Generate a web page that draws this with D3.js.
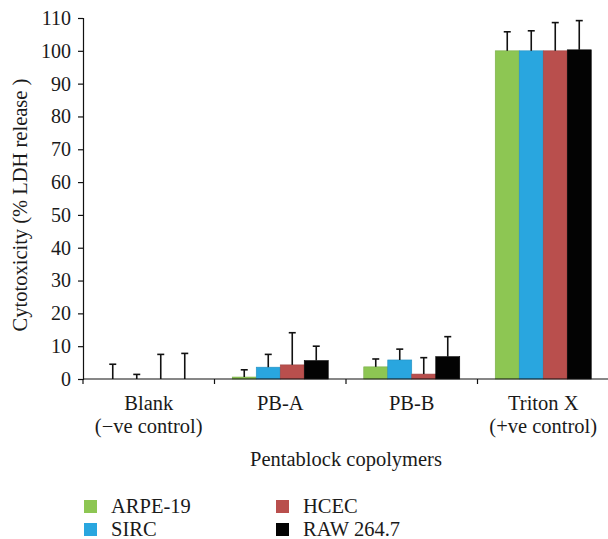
<!DOCTYPE html>
<html>
<head>
<meta charset="utf-8">
<script src="https://cdn.jsdelivr.net/npm/d3@7"></script>
<style>
  html, body { margin: 0; padding: 0; background: #fff; }
  svg { display: block; }
  text { font-family: "Liberation Serif", "Times New Roman", "DejaVu Serif", serif; fill: #1a1a1a; }
</style>
</head>
<body>
<svg id="chart" width="608" height="539"></svg>
<script>
// Cytotoxicity of pentablock copolymers in four cell lines
const categories = ["Blank", "PB-A", "PB-B", "Triton X"];
const categorySub = ["(\u2212ve control)", "", "", "(+ve control)"];
const seriesNames = ["ARPE-19", "SIRC", "HCEC", "RAW 264.7"];
const seriesColors = ["#8dc653", "#29a6df", "#b94f4d", "#030303"];

// mean % LDH release per series, one value per category
const arpe19 = [0, 0.6, 3.7, 100];
const sirc   = [0, 3.6, 5.8, 100];
const hcec   = [0, 4.3, 1.5, 100];
const raw    = [0, 5.6, 6.8, 100.3];

// standard deviations
const arpe19Sd = [4.5, 2.2, 2.4, 5.8];
const sircSd   = [1.4, 3.9, 3.3, 6.1];
const hcecSd   = [7.5, 9.8, 5.0, 8.6];
const rawSd    = [7.8, 4.4, 6.1, 8.9];

const yTicks = [0, 10, 20, 30, 40, 50, 60, 70, 80, 90, 100, 110];

const means = [arpe19, sirc, hcec, raw];
const sds = [arpe19Sd, sircSd, hcecSd, rawSd];

const FONT = "Liberation Serif, Times New Roman, DejaVu Serif, serif";
const svg = d3.select("#chart");
const plotLeft = 83, plotRight = 609, plotTop = 18, plotBottom = 379;

const x = d3.scaleBand().domain(categories).range([plotLeft, plotRight]).padding(0);
const groupW = 96;
const xs = d3.scaleBand().domain(seriesNames)
  .range([(x.bandwidth() - groupW) / 2, (x.bandwidth() + groupW) / 2]).padding(0);
const y = d3.scaleLinear().domain([0, 110]).range([plotBottom, plotTop]);

// bars
const rows = [];
categories.forEach((c, i) => {
  seriesNames.forEach((s, j) => {
    rows.push({ cat: c, series: s, color: seriesColors[j], v: means[j][i], sd: sds[j][i] });
  });
});

const g = svg.append("g");
g.selectAll("rect.bar").data(rows).enter().append("rect")
  .attr("class", "bar")
  .attr("x", d => x(d.cat) + xs(d.series))
  .attr("width", xs.bandwidth())
  .attr("y", d => y(d.v))
  .attr("height", d => y(0) - y(d.v))
  .attr("fill", d => d.color)
  .attr("stroke", d => d3.color(d.color).darker(0.4))
  .attr("stroke-width", 0.6);

// error bars (upper only)
const eb = g.selectAll("g.err").data(rows).enter().append("g").attr("class", "err");
const cx = d => x(d.cat) + xs(d.series) + xs.bandwidth() / 2;
eb.append("line")
  .attr("x1", cx).attr("x2", cx)
  .attr("y1", d => y(d.v))
  .attr("y2", d => y(d.v + d.sd))
  .attr("stroke", "#111").attr("stroke-width", 1.6);
eb.append("line")
  .attr("x1", d => cx(d) - 3.5)
  .attr("x2", d => cx(d) + 3.5)
  .attr("y1", d => y(d.v + d.sd))
  .attr("y2", d => y(d.v + d.sd))
  .attr("stroke", "#111").attr("stroke-width", 1.6);

// y axis
const yAxis = svg.append("g").attr("transform", `translate(${plotLeft},0)`)
  .call(d3.axisLeft(y).tickValues(yTicks).tickSize(5).tickPadding(7).tickFormat(d3.format("d")));
yAxis.attr("font-family", FONT);
yAxis.select(".domain").attr("stroke", "#111").attr("stroke-width", 1.2);
yAxis.selectAll(".tick line").attr("stroke", "#111").attr("stroke-width", 1.2);
yAxis.selectAll(".tick text").attr("font-size", 20)
  .attr("font-family", FONT).attr("fill", "#1a1a1a");

// x axis: ticks at category boundaries
const bounds = categories.map(c => x(c)).concat([plotRight]);
svg.append("line").attr("x1", plotLeft).attr("x2", plotRight).attr("y1", plotBottom).attr("y2", plotBottom)
  .attr("stroke", "#111").attr("stroke-width", 1.2);
svg.selectAll("line.xtick").data(bounds).enter().append("line")
  .attr("class", "xtick")
  .attr("x1", d => d).attr("x2", d => d)
  .attr("y1", plotBottom).attr("y2", plotBottom + 5)
  .attr("stroke", "#111").attr("stroke-width", 1.2);

// category labels
const lab = svg.selectAll("g.catlab").data(categories).enter().append("g").attr("class", "catlab");
lab.append("text")
  .attr("x", d => x(d) + x.bandwidth() / 2)
  .attr("y", 410)
  .attr("text-anchor", "middle").attr("font-size", 20.5).attr("font-family", FONT)
  .text(d => d);
lab.append("text")
  .attr("x", d => x(d) + x.bandwidth() / 2)
  .attr("y", 433)
  .attr("text-anchor", "middle").attr("font-size", 20.5).attr("font-family", FONT)
  .text((d, i) => categorySub[i]);

// axis titles
svg.append("text").attr("x", 346).attr("y", 466)
  .attr("text-anchor", "middle").attr("font-size", 20.5).attr("font-family", FONT)
  .text("Pentablock copolymers");
svg.append("text")
  .attr("transform", "translate(27,205) rotate(-90)")
  .attr("text-anchor", "middle").attr("font-size", 20.5).attr("font-family", FONT)
  .text("Cytotoxicity (% LDH release )");

// legend
const legPos = [[84, 500], [84, 523], [276, 500], [276, 523]];
const leg = svg.selectAll("g.leg").data(seriesNames).enter().append("g").attr("class", "leg")
  .attr("transform", (d, i) => `translate(${legPos[i][0]},${legPos[i][1]})`);
leg.append("rect").attr("width", 13).attr("height", 13)
  .attr("fill", (d, i) => seriesColors[i]);
leg.append("text").attr("x", 27).attr("y", 13).attr("font-size", 20.5).attr("font-family", FONT)
  .text(d => d);
</script>
</body>
</html>
